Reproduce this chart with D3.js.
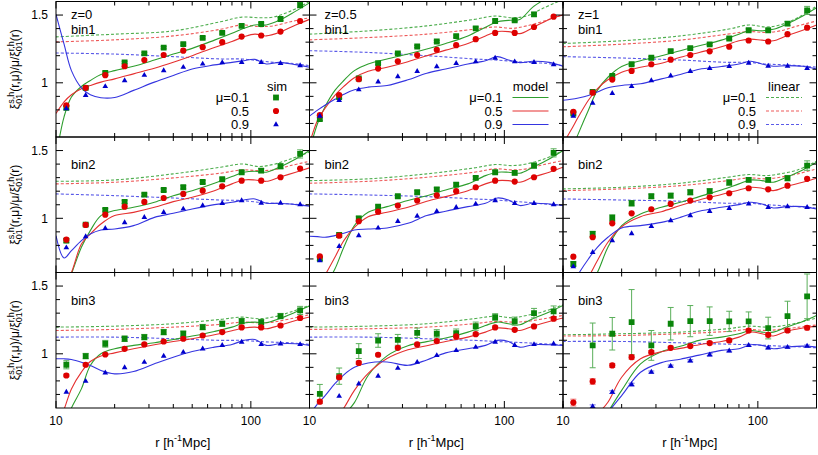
<!DOCTYPE html>
<html>
<head>
<meta charset="utf-8">
<script src="https://d3js.org/d3.v7.min.js"></script>
<style>
  body { margin: 0; background: #fff; }
  svg { font-family: "Liberation Sans", Arial, sans-serif; }
</style>
</head>
<body>
<div id="chart"></div>
<script>
// separation grids (h^-1 Mpc)
var rSim = [11.3, 14.2, 17.9, 22.5, 28.4, 35.7, 45.0, 56.6, 71.3, 89.7, 113, 142, 179];
var rModel = [10, 11, 12, 13.5, 15, 17, 20, 25, 32, 40, 50, 65, 80, 92, 105, 120, 140, 170, 200];
var rLin = [10, 20, 40, 70, 90, 110, 130, 160, 200];

var zLabels = ["z=0", "z=0.5", "z=1"];
var binLabels = ["bin1", "bin2", "bin3"];
var muLabels = ["\u03bc=0.1", "0.5", "0.9"];
var legendTitles = ["sim", "model", "linear"];
var xTickLabels = [10, 100];
var yTickLabels = [1, 1.5];

// panels in order: bin1 z0, bin1 z0.5, bin1 z1, bin2 z0, ... bin3 z1
var simMu01 = [
  [0.815, 0.963, 1.073, 1.151, 1.217, 1.259, 1.285, 1.332, 1.368, 1.42, 1.434, 1.471, 1.573],
  [0.732, 0.895, 1.032, 1.144, 1.217, 1.268, 1.305, 1.344, 1.402, 1.456, 1.461, 1.505, 1.63],
  [0.773, 0.932, 1.051, 1.137, 1.185, 1.234, 1.256, 1.283, 1.327, 1.388, 1.388, 1.437, 1.534],
  [0.835, 0.953, 1.062, 1.121, 1.175, 1.209, 1.229, 1.268, 1.288, 1.34, 1.352, 1.384, 1.475],
  [0.70, 0.877, 1.0, 1.086, 1.163, 1.192, 1.214, 1.249, 1.298, 1.34, 1.335, 1.389, 1.483],
  [0.663, 0.884, 1.002, 1.111, 1.163, 1.167, 1.192, 1.2, 1.264, 1.283, 1.283, 1.296, 1.389],
  [0.919, 0.983, 1.074, 1.111, 1.123, 1.16, 1.148, 1.197, 1.222, 1.241, 1.234, 1.278, 1.32],
  [0.704, 0.835, 1.02, 1.098, 1.103, 1.155, 1.148, 1.153, 1.204, 1.271, 1.241, 1.3, 1.313],
  [null, 1.062, 1.148, 1.234, 1.062, 1.222, 1.241, 1.241, 1.239, 1.239, 1.19, 1.278, 1.424]
];
var simMu05 = [
  [0.834, 0.963, 1.056, 1.122, 1.168, 1.205, 1.237, 1.263, 1.3, 1.341, 1.349, 1.378, 1.456],
  [0.761, 0.91, 1.027, 1.105, 1.159, 1.205, 1.244, 1.278, 1.322, 1.368, 1.368, 1.412, 1.488],
  [0.785, 0.927, 1.024, 1.088, 1.137, 1.171, 1.205, 1.232, 1.266, 1.312, 1.305, 1.359, 1.407],
  [0.842, 0.951, 1.027, 1.086, 1.121, 1.15, 1.18, 1.204, 1.236, 1.278, 1.278, 1.303, 1.367],
  [0.719, 0.872, 0.978, 1.049, 1.094, 1.131, 1.17, 1.2, 1.229, 1.278, 1.271, 1.303, 1.365],
  [0.717, 0.86, 0.963, 1.037, 1.067, 1.106, 1.131, 1.155, 1.185, 1.222, 1.214, 1.241, 1.291],
  [0.84, 0.919, 0.995, 1.037, 1.069, 1.091, 1.111, 1.135, 1.16, 1.195, 1.195, 1.209, 1.264],
  [0.647, 0.827, 0.933, 0.993, 1.044, 1.069, 1.094, 1.128, 1.145, 1.195, 1.177, 1.202, 1.259],
  [0.64, 0.796, 0.914, 0.975, 1.012, 1.044, 1.057, 1.079, 1.099, 1.172, 1.14, 1.172, 1.192]
];
var simMu09 = [
  [0.81, 0.907, 0.973, 1.017, 1.056, 1.09, 1.115, 1.139, 1.149, 1.151, 1.151, 1.144, 1.127],
  [0.754, 0.871, 0.949, 1.007, 1.046, 1.085, 1.12, 1.144, 1.156, 1.183, 1.156, 1.151, 1.134],
  [0.754, 0.851, 0.922, 0.973, 1.017, 1.051, 1.085, 1.107, 1.122, 1.146, 1.124, 1.124, 1.107],
  [0.783, 0.865, 0.926, 0.968, 1.007, 1.044, 1.069, 1.094, 1.111, 1.131, 1.113, 1.113, 1.101],
  [0.687, 0.793, 0.872, 0.929, 0.978, 1.017, 1.052, 1.081, 1.106, 1.131, 1.111, 1.111, 1.101],
  [0.643, 0.749, 0.835, 0.887, 0.941, 0.983, 1.02, 1.052, 1.074, 1.106, 1.081, 1.086, 1.081],
  [0.717, 0.798, 0.86, 0.899, 0.938, 0.983, 1.012, 1.037, 1.062, 1.086, 1.069, 1.074, 1.069],
  [null, 0.687, 0.778, 0.835, 0.894, 0.938, 0.988, 1.025, 1.049, 1.086, 1.062, 1.069, 1.074],
  [null, 0.611, 0.717, 0.773, 0.865, 0.909, 0.948, 0.993, 1.022, 1.062, 1.044, 1.049, 1.057]
];

var errMu01 = [
  [0.01, 0.008, 0.008, 0.008, 0.008, 0.008, 0.008, 0.008, 0.008, 0.008, 0.01, 0.012, 0.02],
  [0.01, 0.01, 0.008, 0.008, 0.008, 0.008, 0.008, 0.008, 0.01, 0.01, 0.01, 0.015, 0.02],
  [0.01, 0.01, 0.01, 0.008, 0.008, 0.008, 0.008, 0.008, 0.008, 0.01, 0.01, 0.015, 0.03],
  [0.015, 0.01, 0.01, 0.012, 0.01, 0.01, 0.012, 0.01, 0.01, 0.012, 0.015, 0.018, 0.03],
  [0.012, 0.015, 0.015, 0.012, 0.012, 0.012, 0.012, 0.012, 0.012, 0.012, 0.015, 0.02, 0.03],
  [0.015, 0.02, 0.025, 0.02, 0.015, 0.018, 0.018, 0.018, 0.02, 0.015, 0.015, 0.02, 0.035],
  [0.03, 0.02, 0.025, 0.02, 0.02, 0.02, 0.02, 0.02, 0.018, 0.02, 0.02, 0.02, 0.03],
  [0.07, 0.06, 0.055, 0.05, 0.04, 0.035, 0.03, 0.03, 0.03, 0.025, 0.03, 0.035, 0.04],
  [null, 0.165, 0.12, 0.24, 0.11, 0.12, 0.115, 0.105, 0.075, 0.07, 0.08, 0.11, 0.165]
];
var errMu05 = [
  null, null, null, null, null, null,
  [0.01, 0.01, 0.008, 0.008, 0.008, 0.008, 0.008, 0.008, 0.008, 0.008, 0.008, 0.01, 0.012],
  [0.015, 0.015, 0.012, 0.01, 0.01, 0.01, 0.01, 0.01, 0.01, 0.01, 0.01, 0.01, 0.015],
  [0.025, 0.02, 0.015, 0.015, 0.012, 0.012, 0.012, 0.012, 0.012, 0.012, 0.015, 0.015, 0.015]
];
var errMu09 = [
  null, null, null, null, null, null, null, null,
  [null, 0.012, 0.01, 0.01, 0.008, 0.008, 0.008, 0.008, 0.008, 0.008, 0.008, 0.008, 0.008]
];

var modelMu01 = [
  [0.45, 0.749, 0.895, 0.973, 1.017, 1.061, 1.09, 1.122, 1.168, 1.212, 1.254, 1.315, 1.366, 1.402, 1.427, 1.427, 1.461, 1.529, 1.59],
  [0.5, 0.7, 0.822, 0.944, 1.017, 1.09, 1.139, 1.176, 1.212, 1.249, 1.29, 1.346, 1.41, 1.451, 1.461, 1.468, 1.558, 1.64, 1.72],
  [0.4, 0.5, 0.627, 0.798, 0.944, 1.041, 1.12, 1.163, 1.2, 1.237, 1.273, 1.315, 1.359, 1.388, 1.383, 1.395, 1.432, 1.493, 1.554],
  [0.35, 0.45, 0.589, 0.786, 0.909, 1.02, 1.057, 1.081, 1.118, 1.167, 1.204, 1.259, 1.308, 1.34, 1.347, 1.34, 1.377, 1.438, 1.5],
  [0.3, 0.4, 0.5, 0.626, 0.786, 0.946, 1.044, 1.086, 1.131, 1.167, 1.209, 1.254, 1.315, 1.34, 1.34, 1.333, 1.377, 1.438, 1.5],
  [0.2, 0.3, 0.4, 0.5, 0.6, 0.786, 0.946, 1.032, 1.081, 1.118, 1.16, 1.209, 1.254, 1.283, 1.278, 1.266, 1.303, 1.357, 1.414],
  [0.3, 0.45, 0.6, 0.741, 0.914, 1.0, 1.037, 1.062, 1.081, 1.106, 1.131, 1.165, 1.197, 1.227, 1.234, 1.229, 1.259, 1.308, 1.352],
  [0.2, 0.3, 0.4, 0.5, 0.55, 0.64, 0.84, 0.985, 1.06, 1.09, 1.116, 1.16, 1.209, 1.234, 1.222, 1.214, 1.259, 1.308, 1.357],
  [0.2, 0.25, 0.3, 0.4, 0.45, 0.57, 0.73, 0.926, 1.015, 1.055, 1.099, 1.123, 1.148, 1.172, 1.16, 1.16, 1.197, 1.239, 1.283]
];
var modelMu05 = [
  [0.773, 0.859, 0.912, 0.956, 0.98, 1.005, 1.029, 1.066, 1.107, 1.151, 1.2, 1.261, 1.305, 1.339, 1.359, 1.346, 1.371, 1.427, 1.468],
  [0.55, 0.724, 0.81, 0.907, 0.973, 1.037, 1.085, 1.115, 1.156, 1.2, 1.241, 1.29, 1.346, 1.378, 1.378, 1.363, 1.407, 1.468, 1.5],
  [0.55, 0.651, 0.749, 0.871, 0.956, 1.022, 1.078, 1.115, 1.144, 1.188, 1.224, 1.266, 1.31, 1.322, 1.315, 1.31, 1.346, 1.388, 1.427],
  [0.4, 0.5, 0.6, 0.81, 0.884, 0.958, 1.02, 1.044, 1.081, 1.123, 1.155, 1.204, 1.254, 1.283, 1.283, 1.273, 1.303, 1.34, 1.372],
  [0.4, 0.5, 0.58, 0.712, 0.835, 0.933, 1.012, 1.044, 1.081, 1.126, 1.16, 1.204, 1.254, 1.278, 1.278, 1.266, 1.303, 1.34, 1.377],
  [0.3, 0.4, 0.5, 0.57, 0.687, 0.823, 0.938, 1.012, 1.049, 1.094, 1.135, 1.175, 1.209, 1.229, 1.222, 1.204, 1.234, 1.266, 1.296],
  [0.45, 0.59, 0.741, 0.865, 0.943, 0.983, 1.007, 1.037, 1.067, 1.091, 1.111, 1.14, 1.17, 1.19, 1.197, 1.185, 1.209, 1.246, 1.271],
  [0.3, 0.4, 0.45, 0.52, 0.6, 0.73, 0.855, 0.965, 1.03, 1.06, 1.091, 1.123, 1.16, 1.19, 1.185, 1.172, 1.204, 1.239, 1.264],
  [0.2, 0.3, 0.35, 0.45, 0.55, 0.642, 0.827, 0.963, 1.015, 1.04, 1.067, 1.091, 1.123, 1.16, 1.148, 1.131, 1.165, 1.19, 1.204]
];
var modelMu09 = [
  [1.505, 1.285, 1.09, 0.963, 0.912, 0.89, 0.892, 0.944, 1.005, 1.054, 1.102, 1.132, 1.151, 1.163, 1.173, 1.139, 1.151, 1.134, 1.115],
  [0.754, 0.798, 0.834, 0.878, 0.915, 0.949, 0.968, 0.98, 1.022, 1.071, 1.102, 1.139, 1.163, 1.193, 1.168, 1.149, 1.159, 1.151, 1.122],
  [0.871, 0.878, 0.888, 0.907, 0.932, 0.963, 0.98, 0.993, 1.029, 1.061, 1.1, 1.12, 1.139, 1.159, 1.139, 1.122, 1.127, 1.122, 1.102],
  [0.872, 0.707, 0.761, 0.835, 0.884, 0.914, 0.921, 0.946, 1.007, 1.037, 1.069, 1.101, 1.118, 1.135, 1.143, 1.111, 1.111, 1.101, 1.089],
  [0.867, 0.865, 0.86, 0.872, 0.889, 0.914, 0.921, 0.929, 0.963, 1.02, 1.052, 1.086, 1.111, 1.15, 1.135, 1.094, 1.111, 1.106, 1.094],
  [0.4, 0.5, 0.59, 0.7, 0.786, 0.86, 0.929, 0.946, 0.97, 1.007, 1.052, 1.081, 1.101, 1.118, 1.106, 1.076, 1.086, 1.086, 1.069],
  [0.963, 0.963, 0.958, 0.938, 0.914, 0.877, 0.852, 0.869, 0.926, 0.975, 1.017, 1.049, 1.069, 1.099, 1.106, 1.062, 1.074, 1.074, 1.062],
  [0.55, 0.63, 0.69, 0.78, 0.845, 0.9, 0.932, 0.94, 0.915, 0.955, 1.007, 1.037, 1.062, 1.099, 1.091, 1.049, 1.067, 1.067, 1.062],
  [0.2, 0.25, 0.3, 0.4, 0.5, 0.57, 0.692, 0.864, 0.935, 0.96, 0.99, 1.025, 1.037, 1.067, 1.062, 1.037, 1.049, 1.057, 1.049]
];

var linMu01 = [
  [1.339, 1.359, 1.383, 1.451, 1.485, 1.48, 1.485, 1.529, 1.6],
  [1.359, 1.383, 1.42, 1.468, 1.493, 1.48, 1.493, 1.554, 1.615],
  [1.29, 1.31, 1.346, 1.395, 1.427, 1.412, 1.427, 1.48, 1.566],
  [1.273, 1.283, 1.328, 1.377, 1.401, 1.382, 1.397, 1.438, 1.488],
  [1.278, 1.291, 1.328, 1.372, 1.397, 1.389, 1.401, 1.438, 1.5],
  [1.217, 1.229, 1.259, 1.303, 1.323, 1.315, 1.328, 1.357, 1.421],
  [1.197, 1.204, 1.222, 1.254, 1.271, 1.259, 1.271, 1.308, 1.357],
  [1.197, 1.204, 1.222, 1.259, 1.278, 1.266, 1.283, 1.313, 1.362],
  [1.14, 1.148, 1.16, 1.185, 1.204, 1.197, 1.204, 1.229, 1.264]
];
var linMu05 = [
  [1.302, 1.317, 1.346, 1.395, 1.427, 1.415, 1.42, 1.451, 1.48],
  [1.317, 1.334, 1.359, 1.395, 1.412, 1.402, 1.42, 1.456, 1.505],
  [1.266, 1.285, 1.315, 1.359, 1.378, 1.371, 1.383, 1.42, 1.456],
  [1.254, 1.266, 1.298, 1.333, 1.357, 1.352, 1.357, 1.389, 1.421],
  [1.259, 1.273, 1.303, 1.34, 1.365, 1.357, 1.365, 1.397, 1.426],
  [1.204, 1.217, 1.241, 1.278, 1.298, 1.291, 1.303, 1.328, 1.365],
  [1.172, 1.18, 1.197, 1.217, 1.234, 1.229, 1.234, 1.259, 1.288],
  [1.18, 1.185, 1.197, 1.222, 1.239, 1.234, 1.239, 1.259, 1.283],
  [1.131, 1.135, 1.148, 1.165, 1.18, 1.172, 1.18, 1.195, 1.214]
];
var linMu09 = [
  [1.22, 1.212, 1.193, 1.176, 1.176, 1.163, 1.151, 1.144, 1.127],
  [1.237, 1.224, 1.2, 1.176, 1.168, 1.159, 1.151, 1.144, 1.127],
  [1.193, 1.183, 1.168, 1.151, 1.151, 1.139, 1.134, 1.127, 1.115],
  [1.18, 1.167, 1.15, 1.135, 1.131, 1.118, 1.111, 1.106, 1.094],
  [1.18, 1.172, 1.16, 1.143, 1.135, 1.126, 1.118, 1.106, 1.094],
  [1.143, 1.135, 1.126, 1.111, 1.111, 1.101, 1.094, 1.086, 1.076],
  [1.123, 1.123, 1.111, 1.099, 1.099, 1.091, 1.086, 1.081, 1.069],
  [1.123, 1.123, 1.111, 1.099, 1.091, 1.086, 1.081, 1.074, 1.067],
  [1.091, 1.091, 1.081, 1.071, 1.067, 1.062, 1.057, 1.052, 1.044]
];

var W = 818, H = 455;
var left = 56, top0 = 1.5, pw = 253.5, ph = 135.5;

var ptColor = ["#0a850a", "#dd0000", "#0000cc"];
var lineColor = ["#2e9e2e", "#e53030", "#3535e0"];
var dashColor = ["#4fae4f", "#ee5a5a", "#5a5ae8"];
var errColor = ["#5aaf5a", "#ee7070", "#6a6ae8"];
var symbols = [d3.symbolSquare, d3.symbolCircle, d3.symbolTriangle];
var symSize = [34, 30, 14];

var sims = [simMu01, simMu05, simMu09];
var errs = [errMu01, errMu05, errMu09];
var models = [modelMu01, modelMu05, modelMu09];
var lins = [linMu01, linMu05, linMu09];

var svg = d3.select("#chart").append("svg")
  .attr("width", W)
  .attr("height", H);

var x = d3.scaleLog().domain([10, 200]).range([0, pw]);
var y = d3.scaleLinear().domain([0.6, 1.6]).range([ph, 0]);

var curveLine = d3.line()
  .x(function (d) { return x(d[0]); })
  .y(function (d) { return y(d[1]); })
  .curve(d3.curveCatmullRom.alpha(0.5));

// text with stacked super/subscripts, gnuplot style
function richText(parent, parts, size, small) {
  var grp = parent.append("g");
  var cx = 0;
  parts.forEach(function (pt) {
    if (pt.t) {
      var t = grp.append("text").attr("x", cx).attr("y", 0)
        .style("font-size", size + "px").text(pt.t);
      cx += t.node().getComputedTextLength();
    } else {
      var w = 0;
      if (pt.sup) {
        var a = grp.append("text").attr("x", cx).attr("y", -size * 0.45)
          .style("font-size", small + "px").text(pt.sup);
        w = Math.max(w, a.node().getComputedTextLength());
      }
      if (pt.sub) {
        var b = grp.append("text").attr("x", cx).attr("y", size * 0.28)
          .style("font-size", small + "px").text(pt.sub);
        w = Math.max(w, b.node().getComputedTextLength());
      }
      cx += w;
    }
  });
  grp.attr("transform", "translate(" + (-cx / 2) + ",0)");
  return grp;
}

var xMinor = [20, 30, 40, 50, 60, 70, 80, 90, 200];
var yMinor = [0.7, 0.8, 0.9, 1.1, 1.2, 1.3, 1.4];

for (var p = 0; p < 9; p++) {
  var row = Math.floor(p / 3), col = p % 3;
  var g = svg.append("g")
    .attr("transform", "translate(" + (left + col * pw) + "," + (top0 + row * ph) + ")");

  g.append("clipPath").attr("id", "clip" + p)
    .append("rect").attr("width", pw).attr("height", ph);
  var plot = g.append("g").attr("clip-path", "url(#clip" + p + ")");

  // linear theory (dashed)
  for (var s = 0; s < 3; s++) {
    plot.append("path")
      .datum(rLin.map(function (r, k) { return [r, lins[s][p][k]]; }))
      .attr("d", curveLine)
      .attr("fill", "none")
      .attr("stroke", dashColor[s])
      .attr("stroke-width", 1.1)
      .attr("stroke-dasharray", "3,2");
  }
  // model (solid)
  for (var s = 0; s < 3; s++) {
    plot.append("path")
      .datum(rModel.map(function (r, k) { return [r, models[s][p][k]]; }))
      .attr("d", curveLine)
      .attr("fill", "none")
      .attr("stroke", lineColor[s])
      .attr("stroke-width", 1.1);
  }
  // simulation points with error bars
  for (var s = 0; s < 3; s++) {
    var pts = [];
    rSim.forEach(function (r, k) {
      var v = sims[s][p][k];
      if (v == null) return;
      var e = errs[s][p] ? errs[s][p][k] : null;
      pts.push({ r: r, v: v, e: e });
    });
    var eb = plot.append("g").attr("stroke", errColor[s]).attr("stroke-width", 1);
    pts.filter(function (d) { return d.e; }).forEach(function (d) {
      var px = x(d.r), y0 = y(d.v - d.e), y1 = y(d.v + d.e);
      eb.append("line").attr("x1", px).attr("x2", px).attr("y1", y0).attr("y2", y1);
      eb.append("line").attr("x1", px - 3).attr("x2", px + 3).attr("y1", y0).attr("y2", y0);
      eb.append("line").attr("x1", px - 3).attr("x2", px + 3).attr("y1", y1).attr("y2", y1);
    });
    plot.selectAll(".pt" + s)
      .data(pts)
      .enter().append("path")
      .attr("class", "pt" + s)
      .attr("d", d3.symbol().type(symbols[s]).size(symSize[s]))
      .attr("transform", function (d) { return "translate(" + x(d.r) + "," + y(d.v) + ")"; })
      .attr("fill", ptColor[s]);
  }

  // frame and ticks
  g.append("rect").attr("width", pw).attr("height", ph)
    .attr("fill", "none").attr("stroke", "#000").attr("stroke-width", 1);
  var tk = g.append("g").attr("stroke", "#000").attr("stroke-width", 1);
  xTickLabels.concat(xMinor).forEach(function (v) {
    var len = (v === 10 || v === 100) ? 7 : 4;
    var px = x(v);
    tk.append("line").attr("x1", px).attr("x2", px).attr("y1", ph).attr("y2", ph - len);
    tk.append("line").attr("x1", px).attr("x2", px).attr("y1", 0).attr("y2", len);
  });
  yTickLabels.concat(yMinor).forEach(function (v) {
    var len = (v === 1 || v === 1.5) ? 7 : 4;
    var py = y(v);
    tk.append("line").attr("x1", 0).attr("x2", len).attr("y1", py).attr("y2", py);
    tk.append("line").attr("x1", pw).attr("x2", pw - len).attr("y1", py).attr("y2", py);
  });

  // y tick labels (left column only)
  if (col === 0) {
    yTickLabels.forEach(function (v) {
      g.append("text").attr("x", -8).attr("y", y(v)).attr("dy", "0.36em")
        .attr("text-anchor", "end").style("font-size", "12px").text(v);
    });
  }
  // x tick labels (bottom row only)
  if (row === 2) {
    xTickLabels.forEach(function (v) {
      g.append("text").attr("x", x(v)).attr("y", ph + 17)
        .attr("text-anchor", "middle").style("font-size", "12px").text(v);
    });
    var xl = g.append("g").attr("transform", "translate(" + (pw / 2) + "," + (ph + 39) + ")");
    richText(xl, [{ t: "r [h" }, { sup: "-1" }, { t: "Mpc]" }], 13, 9);
  }

  // panel labels
  if (row === 0) {
    g.append("text").attr("x", 15).attr("y", 17.5).style("font-size", "13px").text(zLabels[col]);
  }
  g.append("text").attr("x", 15).attr("y", 32.2).style("font-size", "13px").text(binLabels[row]);

  // legends in top row
  if (row === 0) {
    var lg = g.append("g");
    lg.append("text").attr("x", 221).attr("y", 89).attr("text-anchor", "middle")
      .style("font-size", "13px").text(legendTitles[col]);
    for (var s = 0; s < 3; s++) {
      var by = 100.5 + s * 13.5;
      lg.append("text").attr("x", 193).attr("y", by).attr("text-anchor", "end")
        .style("font-size", "13px").text(muLabels[s]);
      var cy = by - 4.5;
      if (col === 0) {
        lg.append("path")
          .attr("d", d3.symbol().type(symbols[s]).size(symSize[s]))
          .attr("transform", "translate(220," + cy + ")")
          .attr("fill", ptColor[s]);
      } else {
        lg.append("line").attr("x1", 203).attr("x2", 239).attr("y1", cy).attr("y2", cy)
          .attr("stroke", col === 1 ? lineColor[s] : dashColor[s])
          .attr("stroke-width", 1.1)
          .attr("stroke-dasharray", col === 1 ? null : "3,2");
      }
    }
  }
}

// y axis titles, one per row
for (var r = 0; r < 3; r++) {
  var yl = svg.append("g")
    .attr("transform", "translate(19," + (top0 + r * ph + ph / 2) + ") rotate(-90)");
  richText(yl, [
    { t: "\u03be" }, { sup: "s,h", sub: "01" },
    { t: "(r,\u03bc)/\u03bc/\u03be" }, { sup: "r,h", sub: "01" },
    { t: "(r)" }
  ], 12, 9);
}
</script>
</body>
</html>
